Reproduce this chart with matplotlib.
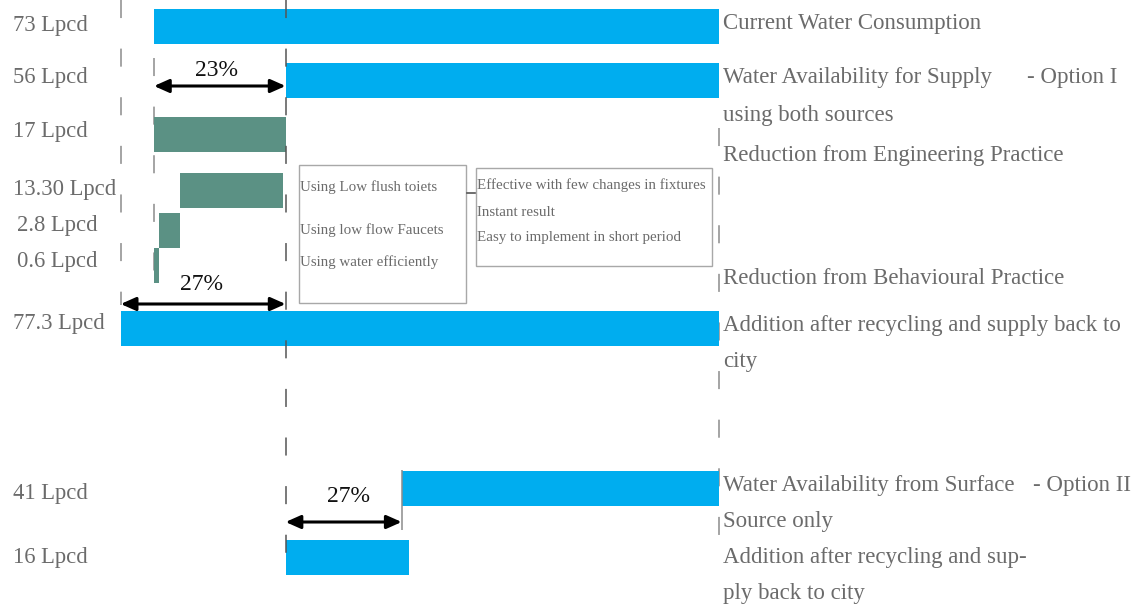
# Water demand / supply bar diagram

import matplotlib
matplotlib.use('Agg')
import matplotlib.pyplot as plt

plt.rcParams['font.family'] = ['Liberation Serif', 'DejaVu Serif']
plt.rcParams['lines.scale_dashes'] = False

# Data (Lpcd)

current = 73
supply_opt1 = 56
engineering = 17
behaviour_parts = [0.6, 2.8, 13.3]
recycled_opt1 = 77.3
surface_opt2 = 41
recycled_opt2 = 16

left_labels = ['73 Lpcd', '56 Lpcd', '17 Lpcd', '13.30 Lpcd', '2.8 Lpcd', '0.6 Lpcd',
               '77.3 Lpcd', '41 Lpcd', '16 Lpcd']
percent_labels = ['23%', '27%', '27%']
box1_lines = ['Using Low flush toiets', 'Using low flow Faucets', 'Using water efficiently']
box2_lines = ['Effective with few changes in fixtures', 'Instant result',
              'Easy to implement in short period']

# Colours

blue = '#00adef'
green = '#5b9184'
grey_text = '#6b6b6b'
grey_line = '#8c8c8c'

# Figure in pixel-like layout: x in Lpcd, y in rows (pixels from top)

W, H = 1142, 613
x0_px = 154
scale = (719 - x0_px) / current


def px(x):
    return (x - x0_px) / scale


fig = plt.figure(figsize=(W / 100, H / 100), dpi=100)
ax = fig.add_axes([0, 0, 1, 1])
ax.set_xlim(px(0), px(W))
ax.set_ylim(H, 0)
ax.axis('off')

bh = 35

# Bars
reduction = current - supply_opt1
ax.barh(26, current, left=0, height=bh, color=blue, zorder=2)
ax.barh(80, supply_opt1, left=reduction, height=bh, color=blue, zorder=2)
ax.barh(134, engineering, left=0, height=bh, color=green, zorder=2)

beh_rows = [265, 230, 190]
start = 0
for val, yy in zip(behaviour_parts, beh_rows):
    ax.barh(yy, val, left=start, height=bh, color=green, zorder=2)
    start += val

ax.barh(328, recycled_opt1, left=current - recycled_opt1, height=bh, color=blue, zorder=2)
ax.barh(488, surface_opt2, left=current - surface_opt2, height=bh, color=blue, zorder=2)
ax.barh(557, recycled_opt2, left=reduction, height=bh, color=blue, zorder=2)

# Dashed guide lines
dash = (0, (13, 22))
ax.vlines(current - recycled_opt1, 0, 305, colors=grey_line, lw=1.1, linestyles=[dash], zorder=1)
ax.vlines(0, 58, 300, colors=grey_line, lw=1.1, linestyles=[dash], zorder=1)
ax.vlines(reduction, 0, 575, colors='#555555', lw=1.1, linestyles=[dash], zorder=3)
ax.vlines(current, 128, 540, colors=grey_line, lw=1.1, linestyles=[dash], zorder=1)
ax.vlines(current - surface_opt2 + 0.1, 470, 530, colors=grey_line, lw=1.1, zorder=3)

# Percentage arrows
arrow = dict(arrowstyle='<|-|>,head_length=0.9,head_width=0.4', color='black', lw=2.2,
             shrinkA=0, shrinkB=0)
ax.annotate('', xy=(0, 86), xytext=(reduction, 86), arrowprops=arrow, zorder=4)
ax.annotate('', xy=(current - recycled_opt1, 304), xytext=(reduction, 304),
            arrowprops=arrow, zorder=4)
ax.annotate('', xy=(reduction, 522), xytext=(current - surface_opt2, 522),
            arrowprops=arrow, zorder=4)

ax.text(px(217), 71, percent_labels[0], fontsize=17, color='#111111', ha='center', va='center')
ax.text(px(202), 284, percent_labels[1], fontsize=17, color='#111111', ha='center', va='center')
ax.text(px(349), 497, percent_labels[2], fontsize=17, color='#111111', ha='center', va='center')

# Left labels
left_y = [25, 78, 132, 190, 225, 262, 323, 493, 557]
left_x = [13, 13, 13, 13, 17, 17, 13, 13, 13]
for lab, yy, xx in zip(left_labels, left_y, left_x):
    ax.text(px(xx), yy, lab, fontsize=16.3, color=grey_text, ha='left', va='center')

# Right labels
rx = px(723)
right_texts = [
    (23, 'Current Water Consumption'),
    (78, 'Water Availability for Supply'),
    (115, 'using both sources'),
    (155, 'Reduction from Engineering Practice'),
    (278, 'Reduction from Behavioural Practice'),
    (325, 'Addition after recycling and supply back to'),
    (362, 'city'),
    (485, 'Water Availability from Surface'),
    (522, 'Source only'),
    (558, 'Addition after recycling and sup-'),
    (593, 'ply back to city'),
]
for yy, t in right_texts:
    ax.text(rx, yy, t, fontsize=16.5, color=grey_text, ha='left', va='center')
ax.text(px(1117), 78, '- Option I', fontsize=16.5, color=grey_text, ha='right', va='center')
ax.text(px(1131), 485, '- Option II', fontsize=16.5, color=grey_text, ha='right', va='center')

# Text boxes
box1 = plt.Rectangle((px(299), 165), px(466) - px(299), 138, fill=False,
                     edgecolor='#a8a8a8', lw=1)
box2 = plt.Rectangle((px(476), 168), px(712) - px(476), 98, fill=False,
                     edgecolor='#a8a8a8', lw=1)
ax.add_patch(box1)
ax.add_patch(box2)
ax.plot([px(467), px(475)], [193, 193], color='#555555', lw=1.2)

for yy, t in zip([187, 230, 262], box1_lines):
    ax.text(px(300), yy, t, fontsize=10.8, color=grey_text, ha='left', va='center')
for yy, t in zip([185, 212, 237], box2_lines):
    ax.text(px(477), yy, t, fontsize=10.8, color=grey_text, ha='left', va='center')

plt.savefig('out.png', dpi=100)
